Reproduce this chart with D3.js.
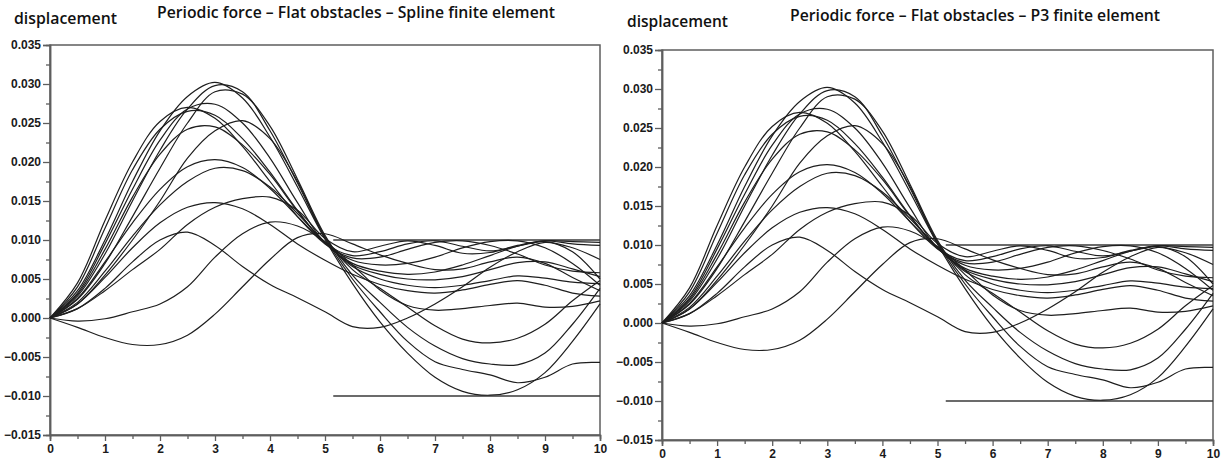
<!DOCTYPE html>
<html><head><meta charset="utf-8">
<script src="https://cdn.jsdelivr.net/npm/d3@7"></script>
<style>body{margin:0;background:#fff}</style>
</head><body>
<svg id="c" width="1229" height="462"></svg>
<script>
// ---- data ----
const times = [0,0.5,1,1.5,2,2.5,3,3.5,4,4.5,5,5.5,6,6.5,7,7.5,8,8.5,9,9.5,10];
const curveA  = [0,0.0035,0.0100,0.0175,0.0240,0.0284,0.0302,0.0282,0.0232,0.0168,0.0101,0.0044,-0.0005,-0.0045,-0.0076,-0.0094,-0.0099,-0.0092,-0.0070,-0.0030,0.0018];
const curveB1 = [0,0.0028,0.0082,0.0150,0.0215,0.0268,0.0298,0.0290,0.0240,0.0173,0.0103,0.0050,0.0008,-0.0030,-0.0056,-0.0066,-0.0073,-0.0083,-0.0076,-0.0059,-0.0057];
const curveB2 = [0,0.0024,0.0070,0.0130,0.0192,0.0250,0.0290,0.0287,0.0246,0.0178,0.0106,0.0055,0.0020,-0.0012,-0.0036,-0.0052,-0.0059,-0.0060,-0.0045,-0.0008,0.0038];
const curveC  = [0,0.0032,0.0095,0.0165,0.0228,0.0268,0.0274,0.0250,0.0205,0.0148,0.0097,0.0080,0.0085,0.0095,0.0099,0.0092,0.0086,0.0092,0.0099,0.0098,0.0097];
const curveD1 = [0,0.0045,0.0125,0.0200,0.0252,0.0270,0.0256,0.0220,0.0175,0.0130,0.0095,0.0077,0.0078,0.0088,0.0097,0.0099,0.0093,0.0082,0.0068,0.0060,0.0058];
const curveD2 = [0,0.0040,0.0115,0.0190,0.0242,0.0265,0.0260,0.0230,0.0187,0.0138,0.0096,0.0074,0.0068,0.0070,0.0078,0.0090,0.0098,0.0099,0.0090,0.0070,0.0042];
const curveE  = [0,0.0018,0.0055,0.0100,0.0150,0.0205,0.0240,0.0253,0.0230,0.0175,0.0104,0.0062,0.0038,0.0014,-0.0010,-0.0027,-0.0032,-0.0026,-0.0008,0.0022,0.0048];
const curveF  = [0,0.0030,0.0088,0.0155,0.0210,0.0242,0.0245,0.0222,0.0184,0.0137,0.0096,0.0070,0.0060,0.0056,0.0059,0.0068,0.0080,0.0092,0.0098,0.0085,0.0050];
const curveG  = [0,0.0025,0.0072,0.0122,0.0165,0.0194,0.0203,0.0193,0.0166,0.0130,0.0096,0.0068,0.0056,0.0050,0.0049,0.0053,0.0062,0.0071,0.0072,0.0063,0.0053];
const curveH  = [0,0.0020,0.0060,0.0105,0.0145,0.0175,0.0192,0.0189,0.0168,0.0134,0.0097,0.0066,0.0050,0.0042,0.0039,0.0042,0.0048,0.0054,0.0051,0.0046,0.0044];
const curveI  = [0,0.0012,0.0035,0.0062,0.0088,0.0120,0.0142,0.0153,0.0155,0.0138,0.0102,0.0085,0.0092,0.0099,0.0093,0.0083,0.0084,0.0093,0.0099,0.0095,0.0093];
const curveJ  = [0,0.0018,0.0052,0.0090,0.0122,0.0142,0.0148,0.0140,0.0120,0.0095,0.0074,0.0056,0.0043,0.0035,0.0032,0.0036,0.0043,0.0048,0.0042,0.0032,0.0028];
const curveK  = [0,0.0012,0.0038,0.0072,0.0100,0.0110,0.0093,0.0066,0.0043,0.0026,0.0008,-0.0011,-0.0012,0.0000,0.0018,0.0040,0.0065,0.0085,0.0097,0.0090,0.0075];
const curveL  = [0,-0.0004,-0.0001,0.0008,0.0018,0.0040,0.0078,0.0108,0.0123,0.0118,0.0098,0.0068,0.0036,0.0016,0.0010,0.0012,0.0016,0.0019,0.0014,0.0015,0.0022];
const curveM  = [0,-0.0012,-0.0025,-0.0034,-0.0034,-0.0022,0.0005,0.0040,0.0075,0.0103,0.0108,0.0095,0.0081,0.0070,0.0062,0.0063,0.0072,0.0078,0.0070,0.0052,0.0035];
const obstacleValues = [0.010, -0.010];
const obstacleSpan = [5.15, 10];
const xTicks = [0,1,2,3,4,5,6,7,8,9,10];
const xMinorTicks = [0.5,1.5,2.5,3.5,4.5,5.5,6.5,7.5,8.5,9.5];
const yTicks = [-0.015,-0.010,-0.005,0.000,0.005,0.010,0.015,0.020,0.025,0.030,0.035];
const yMinorTicks = [-0.0125,-0.0075,-0.0025,0.0025,0.0075,0.0125,0.0175,0.0225,0.0275,0.0325];
const titles = ["Periodic force \u2013 Flat obstacles \u2013 Spline finite element",
                "Periodic force \u2013 Flat obstacles \u2013 P3 finite element"];
const yLabel = "displacement";

const allCurves = [curveA,curveB1,curveB2,curveC,curveD1,curveD2,curveE,curveF,curveG,curveH,curveI,curveJ,curveK,curveL,curveM];

// ---- layout ----
const panels = [
  {left:50, right:600, top:45, bottom:435, title:titles[0], titleX:157, titleW:398, titleY:18, labX:14, labW:103, labY:24},
  {left:662, right:1213, top:50, bottom:440, title:titles[1], titleX:790, titleW:370, titleY:21, labX:627, labW:101, labY:27}
];

const svg = d3.select("#c");
const axisColor = "#5e5e5e";

panels.forEach(p => {
  const x = d3.scaleLinear().domain([0,10]).range([p.left, p.right]);
  const y = d3.scaleLinear().domain([-0.015,0.035]).range([p.bottom, p.top]);
  const g = svg.append("g");

  g.append("text").attr("x", p.titleX).attr("y", p.titleY)
    .attr("textLength", p.titleW).attr("lengthAdjust","spacingAndGlyphs")
    .style("font-family","'Open Sans', sans-serif").style("font-weight","600")
    .style("font-size","16.5px").attr("fill","#111").text(p.title);
  g.append("text").attr("x", p.labX).attr("y", p.labY)
    .attr("textLength", p.labW).attr("lengthAdjust","spacingAndGlyphs")
    .style("font-family","'Open Sans', sans-serif").style("font-weight","600")
    .style("font-size","16.5px").attr("fill","#111").text(yLabel);

  g.append("rect").attr("x", p.left).attr("y", p.top)
    .attr("width", p.right - p.left).attr("height", p.bottom - p.top)
    .attr("fill","none").attr("stroke", axisColor).attr("stroke-width", 1.5);

  const yAxis = d3.axisLeft(y).tickValues(yTicks).tickSize(7).tickPadding(2)
    .tickFormat(d => d3.format(".3f")(d));
  const yMinor = d3.axisLeft(y).tickValues(yMinorTicks).tickSize(4).tickFormat("");
  const xAxis = d3.axisBottom(x).tickValues(xTicks).tickSize(6).tickPadding(3).tickFormat(d3.format("d"));
  const xMinor = d3.axisBottom(x).tickValues(xMinorTicks).tickSize(4).tickFormat("");

  [[yAxis,`translate(${p.left},0)`],[yMinor,`translate(${p.left},0)`],
   [xAxis,`translate(0,${p.bottom})`],[xMinor,`translate(0,${p.bottom})`]].forEach(([ax,tr]) => {
    const a = g.append("g").attr("transform", tr).call(ax);
    a.select(".domain").attr("stroke", axisColor).attr("stroke-width",1.5);
    a.selectAll(".tick line").attr("stroke", axisColor).attr("stroke-width",1.3);
    a.selectAll(".tick text").attr("fill","#1a1a1a")
      .style("font-family","'Liberation Sans', Arial, sans-serif")
      .style("font-weight","bold").style("font-size","12px");
  });

  obstacleValues.forEach(v => {
    g.append("line").attr("x1", x(obstacleSpan[0])).attr("x2", x(obstacleSpan[1]))
      .attr("y1", y(v)).attr("y2", y(v))
      .attr("stroke","#3a3a3a").attr("stroke-width",1.5);
  });

  const line = d3.line().x((d,i) => x(times[i])).y(d => y(d)).curve(d3.curveCatmullRom.alpha(0.5));
  g.append("g").selectAll("path").data(allCurves).join("path")
    .attr("d", line).attr("fill","none").attr("stroke","#1e1e1e").attr("stroke-width",1.2);
});
</script>
</body></html>
